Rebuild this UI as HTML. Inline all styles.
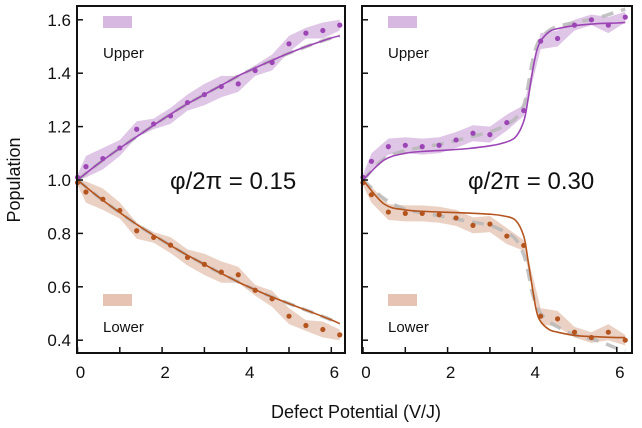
<!DOCTYPE html>
<html><head><meta charset="utf-8"><style>
body{margin:0;background:#fff;}
svg{display:block;font-family:"Liberation Sans",sans-serif;}
</style></head><body>
<svg id="chart" width="642" height="428" viewBox="0 0 642 428" xmlns="http://www.w3.org/2000/svg">
<g id="root"></g>
</svg>
<script>
const xs = [0,0.2,0.6,1.0,1.4,1.8,2.2,2.6,3.0,3.4,3.8,4.2,4.6,5.0,5.4,5.8,6.2];
const upperA = [1.01,1.05,1.08,1.12,1.19,1.21,1.24,1.29,1.32,1.35,1.36,1.41,1.44,1.51,1.55,1.56,1.58];
const lowerA = [0.99,0.955,0.928,0.886,0.81,0.785,0.756,0.71,0.684,0.655,0.645,0.587,0.555,0.49,0.455,0.44,0.42];
const upperB = [1.01,1.07,1.125,1.13,1.125,1.13,1.15,1.175,1.17,1.215,1.26,1.52,1.53,1.58,1.60,1.58,1.61];
const lowerB = [0.99,0.945,0.88,0.875,0.875,0.87,0.858,0.83,0.835,0.79,0.755,0.49,0.48,0.43,0.41,0.43,0.40];
const bandA = [0.01,0.04,0.04,0.03,0.03,0.02,0.03,0.03,0.04,0.04,0.03,0.02,0.03,0.03,0.02,0.03,0.02];
const bandB = [0.01,0.03,0.03,0.03,0.03,0.03,0.03,0.03,0.03,0.03,0.02,0.03,0.03,0.02,0.02,0.03,0.02];
const fitX = [0,0.5,1,1.5,2,2.5,3,3.3,3.6,3.8,3.9,4.0,4.1,4.2,4.4,4.6,5.0,5.5,6.0,6.2];
const fitUpperA = [1.0,1.062,1.119,1.173,1.226,1.276,1.32,1.346,1.372,1.39,1.398,1.405,1.412,1.42,1.434,1.448,1.475,1.505,1.532,1.54];
const fitLowerA = [1.0,0.936,0.878,0.823,0.774,0.727,0.684,0.658,0.634,0.618,0.610,0.603,0.596,0.589,0.575,0.562,0.537,0.507,0.476,0.462];
const fitUpperB = [1.0,1.075,1.1,1.108,1.112,1.118,1.128,1.138,1.16,1.22,1.30,1.40,1.48,1.52,1.555,1.567,1.578,1.585,1.588,1.59];
const fitLowerB = [1.0,0.91,0.888,0.882,0.879,0.876,0.872,0.866,0.85,0.79,0.70,0.60,0.51,0.47,0.44,0.43,0.418,0.413,0.41,0.41];
const guideUpperB = [1.0,1.08,1.11,1.125,1.14,1.16,1.18,1.2,1.23,1.28,1.35,1.44,1.5,1.53,1.56,1.575,1.59,1.605,1.63,1.64];
const guideLowerB = [1.0,0.93,0.89,0.875,0.86,0.845,0.83,0.81,0.78,0.72,0.66,0.58,0.53,0.5,0.47,0.45,0.42,0.4,0.37,0.36];
const yTicks = [0.4,0.6,0.8,1.0,1.2,1.4,1.6];
const yTickLabels = ["0.4","0.6","0.8","1.0","1.2","1.4","1.6"];
const xTicks = [0,1,2,3,4,5,6];
const xTickLabels = ["0","","2","","4","","6"];

const NS="http://www.w3.org/2000/svg";
const root=document.getElementById('root');
function mk(tag,attrs,parent){const e=document.createElementNS(NS,tag);for(const k in attrs)e.setAttribute(k,attrs[k]);(parent||root).appendChild(e);return e;}
const yS=v=>180-(v-1.0)*267;
const panels=[{x0:77,x1:345,ox:77.5,up:upperA,lo:lowerA,band:bandA,fu:fitUpperA,fl:fitLowerA,gu:null,gl:null,label:"φ/2π = 0.15",lx:170,name:'left'},
              {x0:362,x1:632,ox:363,up:upperB,lo:lowerB,band:bandB,fu:fitUpperB,fl:fitLowerB,gu:guideUpperB,gl:guideLowerB,label:"φ/2π = 0.30",lx:468,name:'right'}];
function smooth(pts){let d=`M${pts[0][0]},${pts[0][1]}`;for(let i=0;i<pts.length-1;i++){const p0=pts[Math.max(0,i-1)],p1=pts[i],p2=pts[i+1],p3=pts[Math.min(pts.length-1,i+2)];d+=` C${p1[0]+(p2[0]-p0[0])/6},${p1[1]+(p2[1]-p0[1])/6} ${p2[0]-(p3[0]-p1[0])/6},${p2[1]-(p3[1]-p1[1])/6} ${p2[0]},${p2[1]}`;}return d;}
const PUR="#9c45b5",ORG="#b4541e";
panels.forEach(p=>{
  const xS=v=>p.ox+v*42.3;
  const g=mk('g',{});
  
  
  [[p.up,'#c9a0d6',PUR,'upper'],[p.lo,'#ddb39c',ORG,'lower']].forEach(([vals,bc,col,nm])=>{
    const top=vals.map((v,i)=>[xS(xs[i]),yS(v+p.band[i])]);
    const bot=vals.map((v,i)=>[xS(xs[i]),yS(v-p.band[i])]).reverse();
    const band=mk('path',{d:'M'+top.map(q=>q.join(',')).join(' L')+' L'+bot.map(q=>q.join(',')).join(' L')+'Z',fill:bc,'fill-opacity':0.6},g);
    
    
  });
  // guides
  const gu=p.gu||p.fu.map((v,i)=>v), gl=p.gl||p.fl;
  [[gu,'upper'],[gl,'lower']].forEach(([vals,nm])=>{
    const pts=vals.map((v,i)=>[xS(fitX[i]),yS(v)]);
    const l=mk('path',{d:smooth(pts),fill:'none',stroke:'#b8b8b8','stroke-width':3.5,'stroke-dasharray':'12,8',opacity:0.85},g);
    
    
  });
  [[p.fu,PUR,'upper'],[p.fl,ORG,'lower']].forEach(([vals,col,nm])=>{
    const pts=vals.map((v,i)=>[xS(fitX[i]),yS(v)]);
    const l=mk('path',{d:smooth(pts),fill:'none',stroke:col,'stroke-width':1.6},g);
    
    
  });
  [[p.up,PUR,'upper'],[p.lo,ORG,'lower']].forEach(([vals,col,nm])=>{
    vals.forEach((v,i)=>{
      const c=mk('circle',{cx:xS(xs[i]),cy:yS(v),r:2.6,fill:col},g);
      
      
    });
  });
  const fr=mk('rect',{x:p.x0,y:6,width:p.x1-p.x0,height:347,fill:'none',stroke:'#111','stroke-width':2},g);
  
  
  yTicks.forEach((t,i)=>{
    const tk=mk('line',{x1:p.x0,x2:p.x0+6,y1:yS(t),y2:yS(t),stroke:'#111','stroke-width':1.5},g);
    
    
    if(p.name==='left'){
      const tl=mk('text',{x:p.x0-6,y:yS(t)+6,'text-anchor':'end','font-size':17,fill:'#111'},g);
      tl.textContent=yTickLabels[i];
      
      
    }
  });
  xTicks.forEach((t,i)=>{
    const tk=mk('line',{x1:xS(t),x2:xS(t),y1:353,y2:347,stroke:'#111','stroke-width':1.5},g);
    
    
    if(xTickLabels[i]){
      const tl=mk('text',{x:xS(t)+3,y:378,'text-anchor':'middle','font-size':17,fill:'#111'},g);
      tl.textContent=xTickLabels[i];
      
      
    }
  });
  const lbl=mk('text',{x:p.lx,y:189,'font-size':24,fill:'#111'},g);
  lbl.textContent=p.label;
  
  
  const lx=p.x0+26;
  const r1=mk('rect',{x:lx,y:16,width:29,height:12,fill:'#d7b8e0'},g);
  
  
  const t1=mk('text',{x:lx,y:58,'font-size':15,fill:'#111'},g);
  t1.textContent='Upper';
  
  
  const r2=mk('rect',{x:lx,y:294,width:29,height:12,fill:'#e6c3b2'},g);
  
  
  const t2=mk('text',{x:lx,y:332,'font-size':15,fill:'#111'},g);
  t2.textContent='Lower';
  
  
});
const xt=mk('text',{x:356,y:418,'text-anchor':'middle','font-size':18,fill:'#111'});
xt.textContent='Defect Potential (V/J)';


const yt=mk('text',{x:0,y:0,'text-anchor':'middle','font-size':18,fill:'#111',transform:'translate(20,180) rotate(-90)'});
yt.textContent='Population';


</script>
</body></html>
